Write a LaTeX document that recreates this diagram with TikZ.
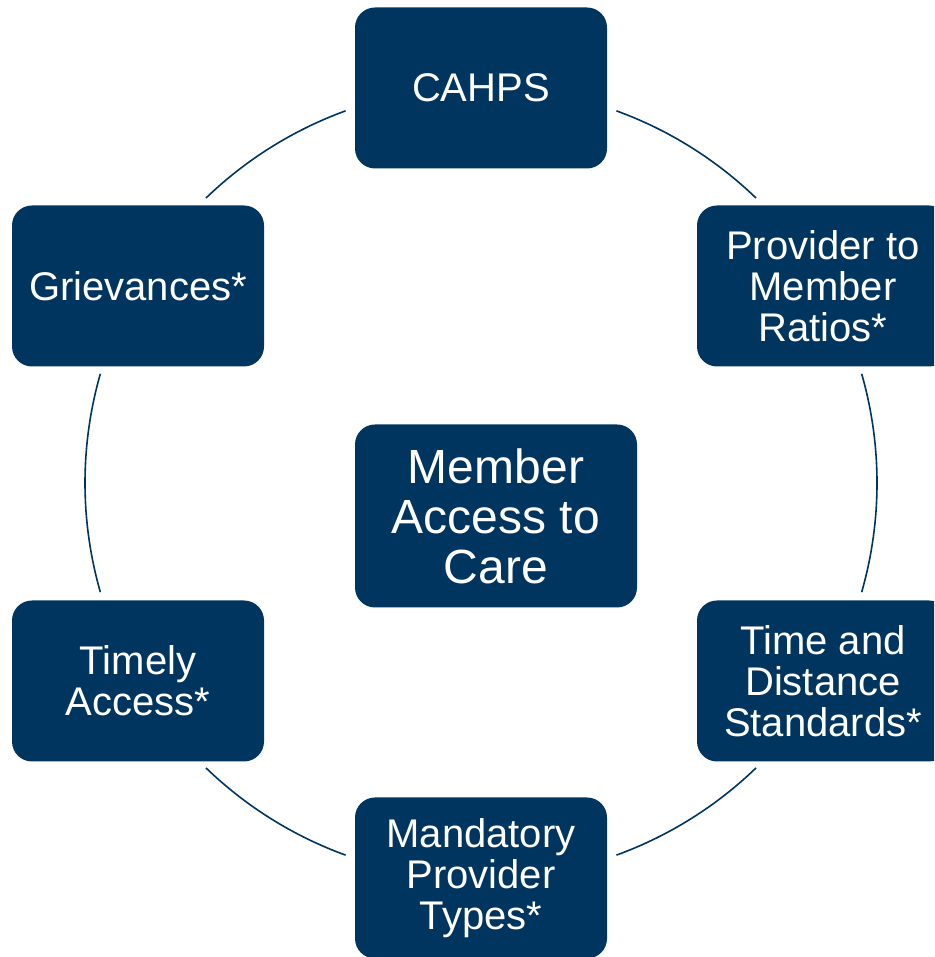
\documentclass[tikz,border=0pt]{standalone}
\usepackage{fontspec}
\setmainfont{Liberation Sans}
\definecolor{boxColor}{RGB}{0,53,95}
\tikzset{
  topic/.style={fill=boxColor, text=white, rounded corners=20pt,
    minimum width=252pt, minimum height=161pt, align=center, inner sep=0pt,
    font=\fontsize{40}{41}\selectfont},
  hub/.style={topic, minimum width=282pt, minimum height=183pt,
    font=\fontsize{48}{50}\selectfont},
  ring/.style={draw=boxColor, line width=1.6pt}
}
\begin{document}
\begin{tikzpicture}[x=1pt,y=1pt]
\path[use as bounding box] (0,0) rectangle (934,957);
\begin{scope}
\path[clip] (0,0) rectangle (934,957);
\coordinate (ringCentre) at (481,474);

% ring segments between the outer boxes
\foreach \a/\b in {-16/16, 46/70, 110/134, 164/196, 226/250, 290/314}
  \draw[ring] (ringCentre) ++(\a:396) arc[start angle=\a, end angle=\b, radius=396];

\node[topic] (cahps)      at (481,869) {CAHPS};
\node[topic] (ratios)     at (823,671) {Provider to\\Member\\Ratios*};
\node[topic] (distance)   at (823,276) {Time and\\Distance\\Standards*};
\node[topic] (mandatory)  at (481, 79) {Mandatory\\Provider\\Types*};
\node[topic] (timely)     at (138,276) {Timely\\Access*};
\node[topic] (grievances) at (138,671) {Grievances*};

\node[hub] (access) at (496,441) {Member\\Access to\\Care};
\end{scope}
\end{tikzpicture}
\end{document}
